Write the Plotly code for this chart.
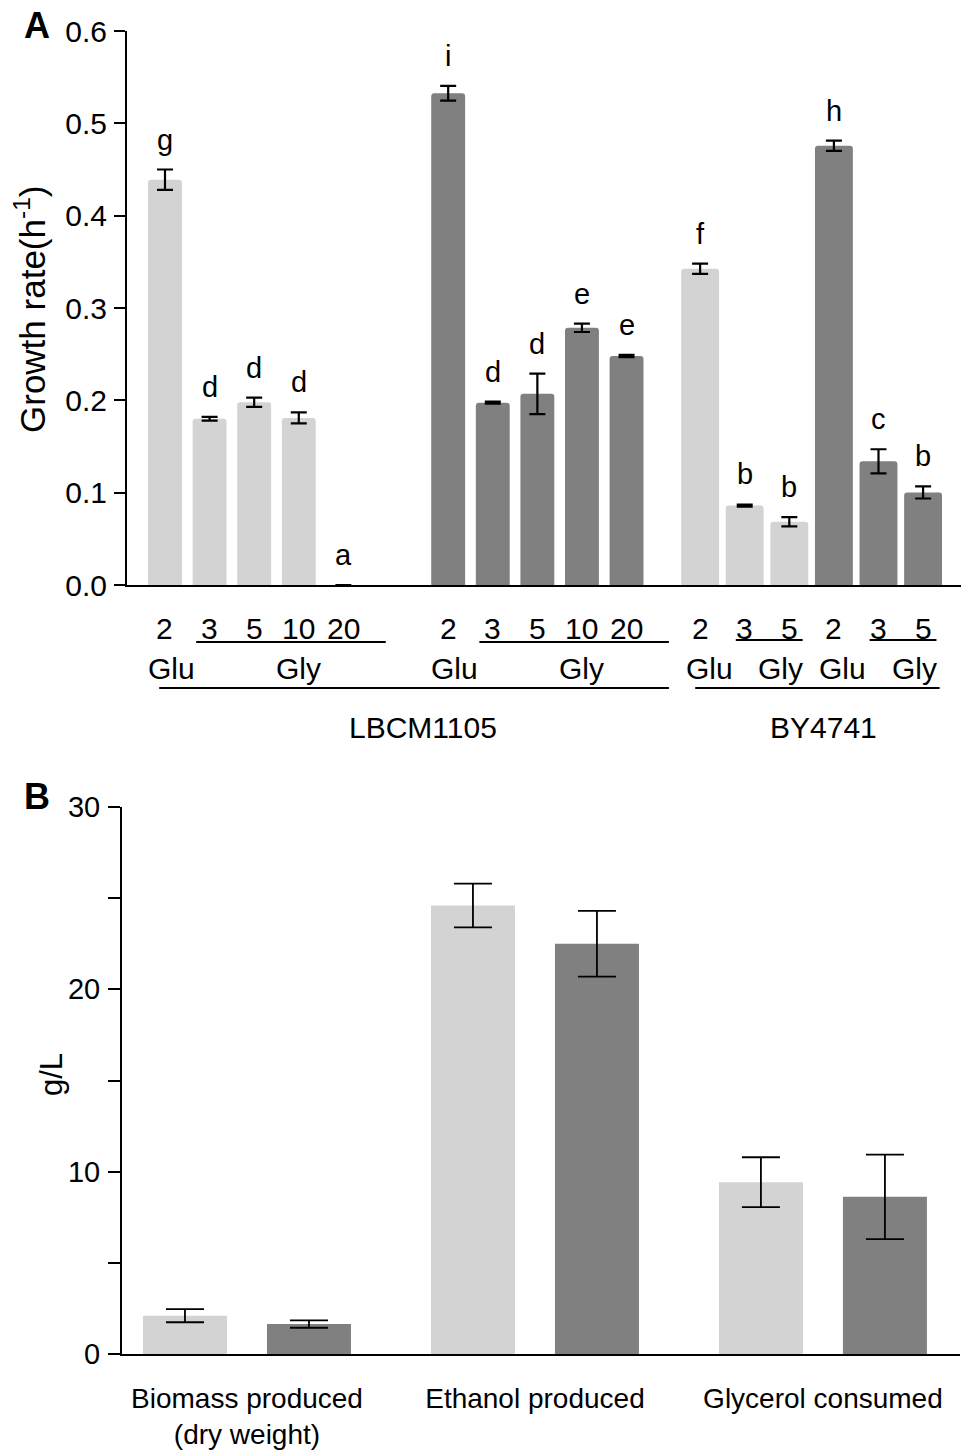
import plotly.graph_objects as go

# page body has an 8px default margin; the figure starts there and runs to the viewport edge
PAGE_MARGIN = 8
VIEW_W, VIEW_H = 969, 1453
W, H = VIEW_W - PAGE_MARGIN, VIEW_H - PAGE_MARGIN
FONT = "Liberation Sans, Arial, sans-serif"
LIGHT = "#d3d3d3"
DARK = "#808080"

# ---------------- Panel A data ----------------
conc_lbcm = ["2", "3", "5", "10", "20"]
conc_by = ["2", "3", "5"]

lbcm_light = [0.439, 0.180, 0.198, 0.181, 0.0]
lbcm_light_err = [0.011, 0.002, 0.005, 0.006, None]
lbcm_light_letters = ["g", "d", "d", "d", "a"]

lbcm_dark = [0.5325, 0.1975, 0.207, 0.2785, 0.248]
lbcm_dark_err = [0.008, 0.0012, 0.022, 0.0045, 0.0012]
lbcm_dark_letters = ["i", "d", "d", "e", "e"]

by_light = [0.3425, 0.086, 0.0685]
by_light_err = [0.0055, 0.0012, 0.005]
by_light_letters = ["f", "b", "b"]

by_dark = [0.4757, 0.134, 0.1003]
by_dark_err = [0.0056, 0.013, 0.0066]
by_dark_letters = ["h", "c", "b"]

# ---------------- Panel B data ----------------
b_categories = ["Biomass produced<br>(dry weight)", "Ethanol produced", "Glycerol consumed"]
b_light = [2.10, 24.6, 9.42]
b_light_err = [0.36, 1.2, 1.37]
b_dark = [1.64, 22.5, 8.62]
b_dark_err = [0.2, 1.8, 2.32]

# ---------------- layout helpers (screen px -> paper) ----------------
def py(px):
    return 1 - (px - PAGE_MARGIN) / H

def pxx(px):
    return (px - PAGE_MARGIN) / W

# slot layout for panel A
G_LBCM_L, G_LBCM_D, G_BY = 0.0, 6.35, 12.0
W_LBCM, W_BY = 0.76, 0.85

x_lbcm_light = [G_LBCM_L + i for i in range(len(lbcm_light))]
x_lbcm_dark = [G_LBCM_D + i for i in range(len(lbcm_dark))]
x_by_light = [G_BY + i for i in range(len(by_light))]
x_by_dark = [G_BY + len(by_light) + i for i in range(len(by_dark))]

fig = go.Figure()

err_style_a = dict(type="data", color="black", thickness=2.2, width=8, visible=True)

fig.add_trace(go.Bar(
    x=x_lbcm_light + x_by_light, y=lbcm_light + by_light,
    width=[W_LBCM] * len(lbcm_light) + [W_BY] * len(by_light),
    marker=dict(color=LIGHT, line=dict(width=0), cornerradius=3),
    error_y=dict(array=lbcm_light_err + by_light_err, **err_style_a),
    xaxis="x", yaxis="y", showlegend=False))
fig.add_trace(go.Bar(
    x=x_lbcm_dark + x_by_dark, y=lbcm_dark + by_dark,
    width=[W_LBCM] * len(lbcm_dark) + [W_BY] * len(by_dark),
    marker=dict(color=DARK, line=dict(width=0), cornerradius=3),
    error_y=dict(array=lbcm_dark_err + by_dark_err, **err_style_a),
    xaxis="x", yaxis="y", showlegend=False))

# Panel B bars
xb = list(range(len(b_categories)))
OFF_B, W_B = 0.2153, 0.2917
err_style_b = dict(type="data", color="black", thickness=1.8, width=19, visible=True)
fig.add_trace(go.Bar(
    x=[v - OFF_B for v in xb], y=b_light, width=W_B,
    marker=dict(color=LIGHT, line=dict(width=0)),
    error_y=dict(array=b_light_err, **err_style_b),
    xaxis="x2", yaxis="y2", showlegend=False))
fig.add_trace(go.Bar(
    x=[v + OFF_B for v in xb], y=b_dark, width=W_B,
    marker=dict(color=DARK, line=dict(width=0)),
    error_y=dict(array=b_dark_err, **err_style_b),
    xaxis="x2", yaxis="y2", showlegend=False))

annotations = []
shapes = []

# significance letters
def add_letters(xs, ys, errs, letters):
    for x, y, e, t in zip(xs, ys, errs, letters):
        annotations.append(dict(x=x, y=y + (e or 0), xref="x", yref="y", text=t,
                                showarrow=False, xanchor="center", yanchor="bottom", yshift=12,
                                font=dict(size=29, color="black", family=FONT)))

add_letters(x_lbcm_light, lbcm_light, lbcm_light_err, lbcm_light_letters)
add_letters(x_lbcm_dark, lbcm_dark, lbcm_dark_err, lbcm_dark_letters)
add_letters(x_by_light, by_light, by_light_err, by_light_letters)
add_letters(x_by_dark, by_dark, by_dark_err, by_dark_letters)

# category labels under panel A
LAB = dict(size=30, color="black", family=FONT)
def txt(x, ypx, t):
    annotations.append(dict(x=x, y=py(ypx), xref="x", yref="paper", text=t,
                            showarrow=False, xanchor="center", yanchor="middle", font=LAB))

def hline(x0, x1, ypx):
    shapes.append(dict(type="line", xref="x", yref="paper", x0=x0, x1=x1,
                       y0=py(ypx), y1=py(ypx), line=dict(color="black", width=2)))

for xs, labels in [(x_lbcm_light, conc_lbcm), (x_lbcm_dark, conc_lbcm),
                   (x_by_light, conc_by), (x_by_dark, conc_by)]:
    for x, t in zip(xs, labels):
        txt(x, 628, t)

# LBCM groups
for g in (G_LBCM_L, G_LBCM_D):
    hline(g + 0.7, g + 4.95, 642)
    txt(g + 0.15, 668, "Glu")
    txt(g + 3.0, 668, "Gly")
hline(G_LBCM_L - 0.13, G_LBCM_D + 4.95, 688)
txt((G_LBCM_L - 0.13 + G_LBCM_D + 4.95) / 2 + 0.2, 727, "LBCM1105")

# BY groups
for g in (G_BY, G_BY + 3):
    hline(g + 0.8, g + 2.3, 640)
    txt(g + 0.2, 668, "Glu")
    txt(g + 1.8, 668, "Gly")
hline(G_BY - 0.11, G_BY + 5.37, 688)
txt(G_BY + 2.76, 727, "BY4741")

# panel letters and y titles
def paper_text(xpx, ypx, t, size, angle=0):
    annotations.append(dict(x=pxx(xpx), y=py(ypx), xref="paper", yref="paper", text=t,
                            textangle=angle, showarrow=False, xanchor="center",
                            yanchor="middle", font=dict(size=size, color="black", family=FONT)))

paper_text(37, 26, "<b>A</b>", 36)
paper_text(37, 796, "<b>B</b>", 36)
paper_text(30, 310, "Growth rate(h<sup>-1</sup>)", 35, -90)
paper_text(51, 1075, "g/L", 31, -90)

axis_common = dict(showline=True, linecolor="black", linewidth=2, showgrid=False,
                   zeroline=False, mirror=False, automargin=False)

fig.update_layout(
    width=W, height=H, margin=dict(l=0, r=0, t=0, b=0, autoexpand=False),
    paper_bgcolor="white", plot_bgcolor="white",
    barmode="overlay", font=dict(family=FONT, color="black"),
    xaxis=dict(domain=[pxx(127), pxx(961)], range=[-0.852, 17.85], anchor="y",
               ticks="", showticklabels=False, **axis_common),
    yaxis=dict(domain=[py(585), py(31)], range=[0, 0.6], anchor="x", dtick=0.1,
               tickformat=".1f", ticks="outside", ticklen=11, tickwidth=2,
               tickcolor="black", ticklabelstandoff=1,
               tickfont=dict(size=30, family=FONT, color="black"), **axis_common),
    xaxis2=dict(domain=[pxx(122), pxx(960)], range=[-0.434, 2.476], anchor="y2",
                tickvals=xb, ticktext=b_categories, ticks="", ticklabelstandoff=18,
                tickfont=dict(size=28, family=FONT, color="black"), **axis_common),
    yaxis2=dict(domain=[py(1354), py(807)], range=[0, 30], anchor="x2", dtick=10,
                ticks="outside", ticklen=12, tickwidth=2, tickcolor="black",
                ticklabelstandoff=2,
                minor=dict(dtick=5, ticks="outside", ticklen=12, tickwidth=2, tickcolor="black"),
                tickfont=dict(size=29, family=FONT, color="black"), **axis_common),
    annotations=annotations, shapes=shapes,
)

fig.write_html("out.html")
